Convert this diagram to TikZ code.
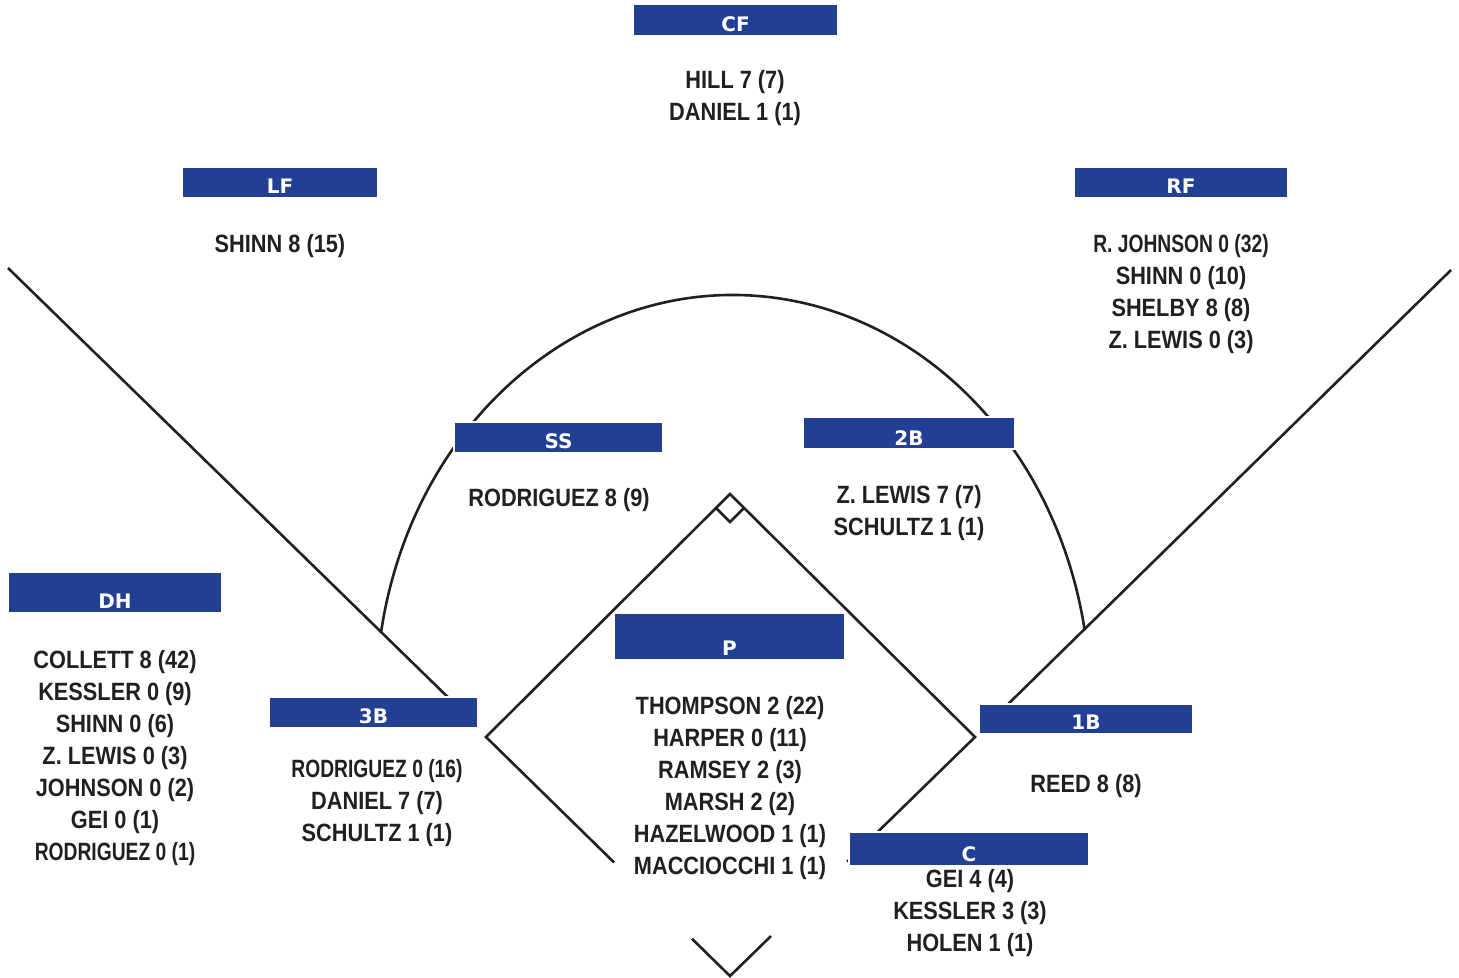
\documentclass[tikz,border=0pt]{standalone}
\usepackage{fontspec}
\usetikzlibrary{calc,fit}

\newfontfamily\rosterfont[FakeStretch=0.87]{Liberation Sans}
\newfontfamily\narrowfont[FakeStretch=0.77]{Liberation Sans}
\newfontfamily\tagfont{DejaVu Sans}
\definecolor{boxblue}{RGB}{35,63,148}
\definecolor{inkblack}{RGB}{35,31,32}

\begin{document}
\begin{tikzpicture}[
    x=0.5pt, y=-0.5pt,
    posbox/.style={
      fill=boxblue, draw=white, line width=1.2pt,
      inner sep=0.6pt, outer sep=0pt
    },
    postag/.style={
      text=white, inner sep=0pt, yshift=5.8pt,
      font=\tagfont\bfseries\fontsize{10}{12}\selectfont
    },
    roster/.style={
      anchor=north, align=center, text=inkblack, inner sep=0pt,
      font=\rosterfont\bfseries\fontsize{12.5}{16}\selectfont
    },
    fieldline/.style={draw=inkblack, line width=1.3pt}
  ]
  \useasboundingbox (0,0) rectangle (1459,978);

  % field
  \coordinate (home) at (730,976);
  \coordinate (first) at (975,737);
  \coordinate (second) at (730,494);
  \coordinate (third) at (486,737);

  \draw[fieldline] (8,268) -- (460,709);
  \draw[fieldline] (1451,270) -- (1000,712);
  \draw[fieldline] (733,700) ++(189.5:357 and 405)
    arc[start angle=189.5, end angle=350, x radius=357, y radius=405];

  \draw[fieldline] ($(home)!0.475!(third)$) -- (third) -- (second)
    -- (first) -- ($(home)!0.478!(first)$);
  \draw[fieldline] ($(home)!0.156!(third)$) -- (home) -- ($(home)!0.167!(first)$);
  \draw[fieldline] ($(second)+(-14,14)$) -- ($(second)+(0,28)$) -- ($(second)+(14,14)$);

  % position boxes
  \node[posbox, fit={(634,5) (837,35)}] (cf) {};
  \node[posbox, fit={(183,168) (377,197)}] (lf) {};
  \node[posbox, fit={(1075,168) (1287,197)}] (rf) {};
  \node[posbox, fit={(455,423) (662,452)}] (ss) {};
  \node[posbox, fit={(804,418) (1014,448)}] (sb) {};
  \node[posbox, fit={(9,573) (221,612)}] (dh) {};
  \node[posbox, fit={(615,614) (844,659)}] (p) {};
  \node[posbox, fit={(270,698) (477,727)}] (tb) {};
  \node[posbox, fit={(980,705) (1192,733)}] (fb) {};
  \node[posbox, fit={(850,833) (1088,865)}] (c) {};

  \node[postag] (cftag) at (cf.south) {CF};
  \node[postag] (lftag) at (lf.south) {LF};
  \node[postag] (rftag) at (rf.south) {RF};
  \node[postag] (sstag) at (ss.south) {SS};
  \node[postag] (sbtag) at (sb.south) {2B};
  \node[postag] (dhtag) at (dh.south) {DH};
  \node[postag] (ptag) at (p.south) {P};
  \node[postag] (tbtag) at (tb.south) {3B};
  \node[postag] (fbtag) at (fb.south) {1B};
  \node[postag] (ctag) at (c.south) {C};

  % players
  \node[roster] (cflist) at (735,70) {HILL 7 (7)\\DANIEL 1 (1)};
  \node[roster] (lflist) at (280,234) {SHINN 8 (15)};
  \node[roster] (rflist) at (1181,234) {{\narrowfont R. JOHNSON 0 (32)}\\SHINN 0 (10)\\SHELBY 8 (8)\\Z. LEWIS 0 (3)};
  \node[roster] (sslist) at (559,488) {RODRIGUEZ 8 (9)};
  \node[roster] (sblist) at (909,485) {Z. LEWIS 7 (7)\\SCHULTZ 1 (1)};
  \node[roster] (dhlist) at (115,650) {COLLETT 8 (42)\\KESSLER 0 (9)\\SHINN 0 (6)\\Z. LEWIS 0 (3)\\JOHNSON 0 (2)\\GEI 0 (1)\\{\narrowfont RODRIGUEZ 0 (1)}};
  \node[roster] (tblist) at (377,759) {{\narrowfont RODRIGUEZ 0 (16)}\\DANIEL 7 (7)\\SCHULTZ 1 (1)};
  \node[roster] (plist) at (730,696) {THOMPSON 2 (22)\\HARPER 0 (11)\\RAMSEY 2 (3)\\MARSH 2 (2)\\HAZELWOOD 1 (1)\\MACCIOCCHI 1 (1)};
  \node[roster] (fblist) at (1086,774) {REED 8 (8)};
  \node[roster] (clist) at (970,869) {GEI 4 (4)\\KESSLER 3 (3)\\HOLEN 1 (1)};
\end{tikzpicture}
\end{document}
